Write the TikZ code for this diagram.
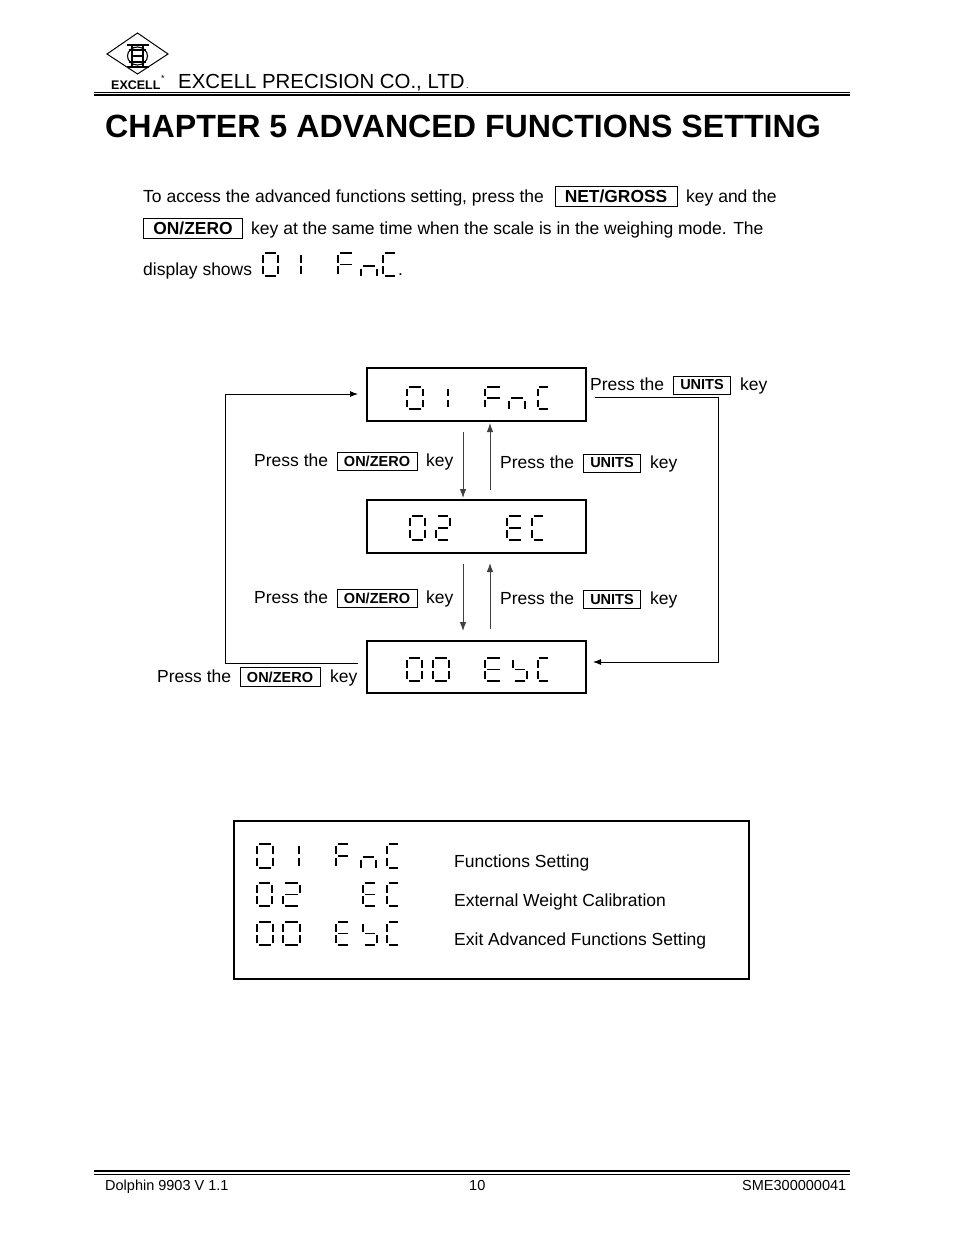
\documentclass[tikz,border=0pt]{standalone}
\usepackage{fontspec}
\setmainfont{Liberation Sans}
\usetikzlibrary{arrows.meta}
\newcommand{\fs}[1]{\fontsize{#1}{#1}\selectfont}
\tikzset{
  x=1pt,y=-1pt,
  txt/.style={anchor=base west,inner sep=0pt,font=\fs{17.5}},
  keybox/.style={draw,line width=1pt,anchor=center,inner sep=0pt,font=\fs{17.4}\bfseries},
  keysmall/.style={draw,line width=1pt,anchor=center,inner sep=0pt,font=\fs{14.5}\bfseries},
  dispbox/.style={draw,line width=2pt,inner sep=0pt,outer sep=0pt,anchor=north west},
  seghor/.style={line width=1.25pt,line cap=butt},
  segver/.style={line width=1.7pt,line cap=butt},
  flow/.style={line width=0.9pt,draw=black!75,-{Latex[length=9pt,width=6.5pt]}},
  loopline/.style={line width=0.9pt,draw=black,-{Latex[length=8pt,width=6pt]}},
  rule/.style={line width=1pt}
}
\newcommand{\sga}{\draw[seghor] (0.12,0)--(0.88,0);}
\newcommand{\sgb}{\draw[segver] (1,0.08)--(1,0.42);}
\newcommand{\sgc}{\draw[segver] (1,0.58)--(1,0.92);}
\newcommand{\sgd}{\draw[seghor] (0.12,1)--(0.88,1);}
\newcommand{\sge}{\draw[segver] (0,0.58)--(0,0.92);}
\newcommand{\sgf}{\draw[segver] (0,0.08)--(0,0.42);}
\newcommand{\sgg}{\draw[seghor] (0.12,0.5)--(0.88,0.5);}
% x left, x right, y top, y bottom, segments
\newcommand{\digraw}[5]{%
  \pgfmathsetlengthmacro{\dw}{#2-#1}\pgfmathsetlengthmacro{\dh}{#4-#3}%
  \begin{scope}[shift={(#1,#3)},x=\dw,y=-\dh]
  \foreach \q in {#5}{\csname sg\q\endcsname}
  \end{scope}}
% the small n: x left, x right, y bar, y bottom
\newcommand{\nseg}[4]{%
  \pgfmathsetmacro{\nb}{#1+2}\pgfmathsetmacro{\nc}{#2-2}\pgfmathsetmacro{\nd}{#3+2.5}%
  \draw[seghor] (\nb,#3)--(\nc,#3);
  \draw[segver] (#1,\nd)--(#1,#4) (#2,\nd)--(#2,#4);}
\begin{document}
\begin{tikzpicture}
\useasboundingbox (0,0) rectangle (954,1235);
\fill[white] (0,0) rectangle (954,1235);
% logo
\draw[line width=1pt] (107,54)--(137.5,33)--(168,54)--(137.5,74)--cycle;
\draw[line width=1.5pt] (127,45)--(149,45) (127,67)--(149,67) (129,50)--(146,50) (129,62)--(146,62);
\draw[line width=1.2pt] (132,45)--(132,67) (143,45)--(143,67) (133,56)--(143,56);
\draw[line width=1.1pt] (137.5,56) ellipse[x radius=10,y radius=9];
\node[anchor=base west,inner sep=0pt,font=\fs{12.5}\bfseries] (logotext) at (111,89) {EXCELL};
\node[anchor=center,inner sep=0pt,font=\fs{9}] (logostar) at (163,78) {*};
\node[txt,font=\fs{20.4}] (company) at (178,88) {EXCELL PRECISION CO., LTD};
\node[txt,font=\fs{9}] (companydot) at (466,88) {.};
\draw[rule] (94,92)--(850,92);
\draw[rule,line width=1.3pt] (94,95)--(850,95);
% heading
\node[txt,font=\fs{32.15}\bfseries] (title) at (105,137) {CHAPTER 5 ADVANCED FUNCTIONS SETTING};
% intro
\node[txt] (i1) at (143,202) {To access the advanced functions setting, press the};
\node[keybox,minimum width=122pt,minimum height=20pt] (knet) at (616,196) {NET/GROSS};
\node[txt] (i2) at (686,202) {key and the};
\node[keybox,minimum width=99pt,minimum height=20pt] (kon) at (193,228) {ON/ZERO};
\node[txt] (i3) at (251,234) {key at the same time when the scale is in the weighing mode. The};
\node[txt] (i4) at (143,275) {display shows};
\digraw{263}{278}{253}{276}{a,b,c,d,e,f}
\digraw{301}{301}{253}{276}{b,c}
\digraw{338}{354}{253}{276}{a,e,f,g}
\nseg{361}{377}{266}{276}
\digraw{383}{397}{253}{276}{a,d,e,f}
\node[txt] (i5) at (398,275) {.};
% display boxes
\node[dispbox,minimum width=219pt,minimum height=53pt] (d1) at (367,368) {};
\node[dispbox,minimum width=219pt,minimum height=53pt] (d2) at (367,500) {};
\node[dispbox,minimum width=219pt,minimum height=52pt] (d3) at (367,641) {};
\digraw{407}{423}{387}{409}{a,b,c,d,e,f}
\digraw{448}{448}{387}{409}{b,c}
\digraw{485}{502}{387}{409}{a,e,f,g}
\nseg{509}{525}{398}{409}
\digraw{538}{549}{387}{409}{a,d,e,f}
\digraw{410}{425}{516}{540}{a,b,c,d,e,f}
\digraw{436}{450}{516}{540}{a,b,g,e,d}
\digraw{507}{523}{516}{540}{a,d,e,f,g}
\digraw{532}{545}{516}{540}{a,d,e,f}
\digraw{407}{422}{658}{681}{a,b,c,d,e,f}
\digraw{433}{449}{658}{681}{a,b,c,d,e,f}
\digraw{485}{502}{658}{681}{a,d,e,f,g}
\digraw{513}{527}{658}{681}{c,d,f,g}
\digraw{538}{549}{658}{681}{a,d,e,f}
% flow arrows
\coordinate (a1s) at (463,432); \coordinate (a1e) at (463,498);
\coordinate (a2s) at (490,490); \coordinate (a2e) at (490,423);
\coordinate (a3s) at (463,564); \coordinate (a3e) at (463,631);
\coordinate (a4s) at (490,629); \coordinate (a4e) at (490,563);
\draw[flow] (a1s)--(a1e);
\draw[flow] (a2s)--(a2e);
\draw[flow] (a3s)--(a3e);
\draw[flow] (a4s)--(a4e);
\coordinate (l1) at (358,663); \coordinate (l2) at (225,663); \coordinate (l3) at (225,394); \coordinate (l4) at (358,394);
\draw[loopline] (l1)--(l2)--(l3)--(l4);
\coordinate (r1) at (595,397); \coordinate (r2) at (718,397); \coordinate (r3) at (718,662); \coordinate (r4) at (593,662);
\draw[loopline] (r1)--(r2)--(r3)--(r4);
% flow labels
\node[txt] (t1) at (590,390) {Press the};
\node[keysmall,minimum width=57pt,minimum height=18pt] (u1) at (702,385) {UNITS};
\node[txt] (t1k) at (740,390) {key};
\node[txt] (t2) at (254,466) {Press the};
\node[keysmall,minimum width=80pt,minimum height=18pt] (o2) at (377,461) {ON/ZERO};
\node[txt] (t2k) at (426,466) {key};
\node[txt] (t3) at (500,468) {Press the};
\node[keysmall,minimum width=57pt,minimum height=18pt] (u3) at (612,463) {UNITS};
\node[txt] (t3k) at (650,468) {key};
\node[txt] (t4) at (254,603) {Press the};
\node[keysmall,minimum width=80pt,minimum height=18pt] (o4) at (377,598) {ON/ZERO};
\node[txt] (t4k) at (426,603) {key};
\node[txt] (t5) at (500,604) {Press the};
\node[keysmall,minimum width=57pt,minimum height=18pt] (u5) at (612,599) {UNITS};
\node[txt] (t5k) at (650,604) {key};
\node[txt] (t6) at (157,682) {Press the};
\node[keysmall,minimum width=80pt,minimum height=19pt] (o6) at (280,677) {ON/ZERO};
\node[txt] (t6k) at (330,682) {key};
% table
\node[draw,line width=2.5pt,inner sep=0pt,outer sep=0pt,anchor=north west,minimum width=515pt,minimum height=158pt] (table) at (234,821) {};
\tikzset{seghor/.style={line width=1.9pt},segver/.style={line width=2pt}}
\digraw{257}{273}{844}{868}{a,b,c,d,e,f}
\digraw{299}{299}{844}{868}{b,c}
\digraw{336}{350}{844}{868}{a,e,f,g}
\nseg{361}{376}{857}{868}
\digraw{387}{400}{844}{868}{a,d,e,f}
\digraw{257}{272}{883}{906}{a,b,c,d,e,f}
\digraw{283}{300}{883}{906}{a,b,g,e,d}
\digraw{363}{377}{883}{906}{a,d,e,f,g}
\digraw{387}{400}{883}{906}{a,d,e,f}
\digraw{257}{273}{922}{945}{a,b,c,d,e,f}
\digraw{283}{300}{922}{945}{a,b,c,d,e,f}
\digraw{336}{350}{922}{945}{a,d,e,f,g}
\digraw{363}{377}{922}{945}{c,d,f,g}
\digraw{387}{400}{922}{945}{a,d,e,f}
\node[txt] (f1) at (454,867) {Functions Setting};
\node[txt] (f2) at (454,906) {External Weight Calibration};
\node[txt] (f3) at (454,945) {Exit Advanced Functions Setting};
% footer
\draw[rule,line width=1.3pt] (94,1171)--(850,1171);
\draw[rule] (94,1174)--(850,1174);
\node[txt,font=\fs{14.5}] (fa) at (105,1190) {Dolphin 9903 V 1.1};
\node[txt,font=\fs{14.5}] (fb) at (469,1190) {10};
\node[txt,font=\fs{14.5}] (fc) at (742,1190) {SME300000041};
\end{tikzpicture}
\end{document}
